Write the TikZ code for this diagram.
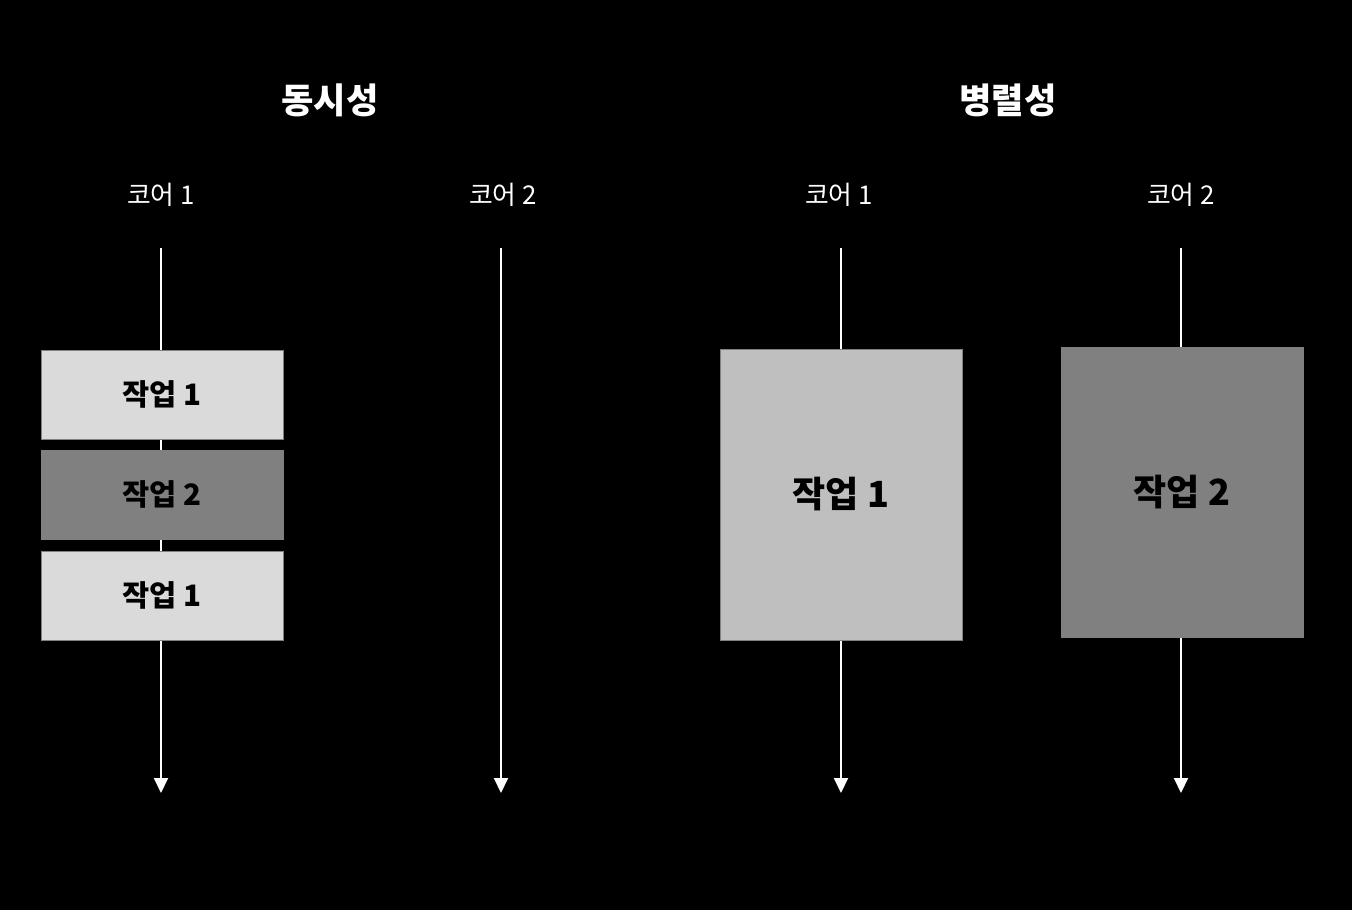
\documentclass[tikz,border=0pt]{standalone}
\usepackage{fontspec}
\setmainfont{Noto Sans CJK KR}
\usepackage{tikz}
\usetikzlibrary{arrows.meta,positioning}
\definecolor{tasklight}{RGB}{218,218,218}
\definecolor{taskmid}{RGB}{191,191,191}
\definecolor{taskdark}{RGB}{128,128,128}

\begin{document}
\begin{tikzpicture}[
    task/.style={draw=gray,line width=0.5pt,minimum width=4.84cm,align=center,text=black,font=\fontsize{16.8}{19}\selectfont\bfseries},
    bigtask/.style={task,minimum height=5.8cm,font=\fontsize{20.5}{23}\selectfont\bfseries},
    core/.style={text=white,font=\fontsize{14.7}{17}\selectfont},
    title/.style={text=white,font=\fontsize{20}{22}\selectfont\bfseries},
    timeline/.style={white,line width=1.1pt,-{Triangle[length=0.3cm,width=0.28cm]}},
    >=Stealth
]
\fill[black] (0,0) rectangle (27.04,-18.2);
\useasboundingbox (0,0) rectangle (27.04,-18.2);

% titles
\node[title] (conc) at (6.6,-2.0) {동시성};
\node[title] (para) at (20.16,-2.0) {병렬성};

% core labels
\node[core] (core1a) at (3.22,-3.9) {코어 1};
\node[core] (core2a) at (10.06,-3.9) {코어 2};
\node[core] (core1b) at (16.78,-3.9) {코어 1};
\node[core] (core2b) at (23.62,-3.9) {코어 2};

% time lines
\coordinate (top1a) at (3.22,-4.96);
\coordinate (end1a) at (3.22,-15.86);
\coordinate (top2a) at (10.02,-4.96);
\coordinate (end2a) at (10.02,-15.86);
\coordinate (top1b) at (16.82,-4.96);
\coordinate (end1b) at (16.82,-15.86);
\coordinate (top2b) at (23.62,-4.96);
\coordinate (end2b) at (23.62,-15.86);
\draw[timeline] (top1a) -- (end1a);
\draw[timeline] (top2a) -- (end2a);
\draw[timeline] (top1b) -- (end1b);
\draw[timeline] (top2b) -- (end2b);

% concurrency: one core switching
\node[task,fill=tasklight,minimum height=1.78cm] (job1) at (3.24,-7.89) {작업 1};
\node[task,fill=taskdark,minimum height=1.78cm] (job2) at (3.24,-9.89) {작업 2};
\node[task,fill=tasklight,minimum height=1.78cm] (job3) at (3.24,-11.91) {작업 1};

% parallelism: two cores
\node[bigtask,fill=taskmid,minimum height=5.82cm] (par1) at (16.82,-9.89) {작업 1};
\node[bigtask,fill=taskdark] (par2) at (23.64,-9.84) {작업 2};
\end{tikzpicture}
\end{document}
